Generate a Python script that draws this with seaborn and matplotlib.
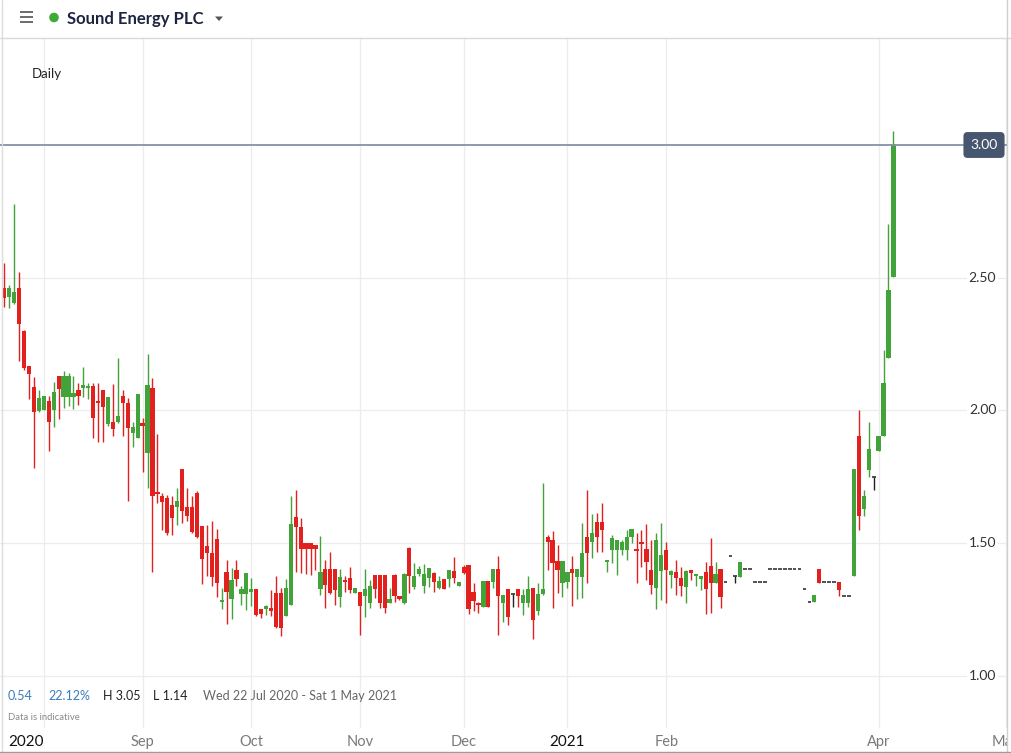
import numpy as np
import pandas as pd
import matplotlib
matplotlib.use("Agg")
import matplotlib.pyplot as plt
import matplotlib.transforms as mtransforms
from matplotlib.patches import Rectangle, Circle, Polygon
import seaborn as sns

# ---------------- data (daily OHLC, trading-day index) ----------------
opens = [2.46, 2.429, 2.404, 2.46, 2.30, 2.168, 2.088, 1.998, 2.002, 2.037,
         2.002, 2.13, 2.05, 2.05, 2.05, 2.078, 2.086, 2.084, 2.092, 2.032,
         2.078, 1.948, 1.956, 1.958, 2.055, 2.03, 1.914, 1.896, 1.952, 1.839,
         2.083, 1.69, 1.678, 1.67, 1.644, 1.638, 1.78, 1.638, 1.638, 1.688,
         1.565, 1.49, 1.462, 1.515, 1.278, 1.391, 1.289, 1.40, 1.309, 1.309,
         1.318, 1.327, 1.252, 1.252, 1.255, 1.314, 1.312, 1.226, 1.268, 1.598,
         1.56, 1.50, 1.50, 1.493, 1.327, 1.402, 1.402, 1.402, 1.299, 1.362,
         1.369, 1.314, 1.318, 1.301, 1.276, 1.379, 1.379, 1.379, 1.276, 1.38,
         1.301, 1.276, 1.481, 1.334, 1.384, 1.337, 1.368, 1.389, 1.33, 1.364,
         1.364, 1.396, 1.337, 1.412, 1.418, 1.318, 1.276, 1.261, 1.358, 1.355,
         1.403, 1.276, 1.328, 1.309, 1.328, 1.274, 1.274, 1.333, 1.246, 1.308,
         1.525, 1.512, 1.433, 1.349, 1.355, 1.404, 1.374, 1.374, 1.525, 1.504,
         1.581, 1.581, 1.428, 1.475, 1.475, 1.475, 1.475, 1.525, 1.477, 1.502,
         1.477, 1.399, 1.333, 1.397, 1.475, 1.381, 1.393, 1.368, 1.334, 1.399,
         1.377, 1.367, 1.393, 1.414, 1.352, 1.402, 1.355, 1.452, 1.377, 1.374,
         1.403, 1.403, 1.355, 1.355, 1.355, 1.402, 1.402, 1.402, 1.402, 1.402,
         1.402, 1.402, 1.327, 1.278, 1.278, 1.402, 1.353, 1.353, 1.353, 1.353,
         1.303, 1.303, 1.375, 1.904, 1.628, 1.774, 1.751, 1.849, 1.902, 2.199,
         2.501]
highs = [2.554, 2.473, 2.778, 2.52, 2.303, 2.168, 2.125, 2.077, 2.055, 2.055,
         2.106, 2.13, 2.149, 2.14, 2.13, 2.105, 2.162, 2.103, 2.105, 2.103,
         2.078, 2.052, 2.10, 2.197, 2.078, 2.046, 1.956, 2.063, 1.971, 2.213,
         2.121, 1.91, 1.691, 1.682, 1.676, 1.707, 1.78, 1.707, 1.676, 1.697,
         1.565, 1.569, 1.582, 1.553, 1.331, 1.435, 1.406, 1.437, 1.337, 1.387,
         1.368, 1.327, 1.252, 1.268, 1.324, 1.375, 1.331, 1.364, 1.676, 1.701,
         1.594, 1.50, 1.50, 1.493, 1.527, 1.437, 1.468, 1.402, 1.402, 1.377,
         1.412, 1.33, 1.318, 1.402, 1.362, 1.379, 1.379, 1.379, 1.33, 1.384,
         1.301, 1.387, 1.487, 1.424, 1.414, 1.421, 1.406, 1.393, 1.377, 1.364,
         1.40, 1.447, 1.355, 1.418, 1.418, 1.349, 1.28, 1.358, 1.358, 1.403,
         1.452, 1.305, 1.328, 1.309, 1.328, 1.328, 1.377, 1.333, 1.349, 1.726,
         1.531, 1.546, 1.493, 1.433, 1.393, 1.452, 1.404, 1.575, 1.701, 1.61,
         1.613, 1.65, 1.433, 1.531, 1.512, 1.512, 1.55, 1.553, 1.537, 1.548,
         1.573, 1.512, 1.537, 1.575, 1.506, 1.399, 1.437, 1.412, 1.399, 1.399,
         1.384, 1.377, 1.431, 1.518, 1.431, 1.402, 1.355, 1.452, 1.377, 1.43,
         1.403, 1.403, 1.355, 1.355, 1.355, 1.402, 1.402, 1.402, 1.402, 1.402,
         1.402, 1.402, 1.327, 1.278, 1.306, 1.402, 1.353, 1.353, 1.353, 1.353,
         1.303, 1.303, 1.78, 2.002, 1.701, 1.955, 1.751, 1.904, 2.228, 2.703,
         3.053]
lows = [2.391, 2.385, 2.40, 2.188, 2.153, 2.042, 1.783, 1.996, 2.0, 1.849,
        1.937, 1.968, 2.008, 2.015, 2.005, 2.021, 2.052, 2.042, 1.896, 1.883,
        1.88, 1.94, 1.902, 1.952, 1.902, 1.66, 1.862, 1.896, 1.77, 1.707,
        1.393, 1.65, 1.55, 1.531, 1.531, 1.569, 1.578, 1.582, 1.54, 1.519,
        1.345, 1.375, 1.337, 1.299, 1.252, 1.196, 1.214, 1.337, 1.268, 1.249,
        1.262, 1.226, 1.217, 1.23, 1.224, 1.18, 1.149, 1.226, 1.268, 1.393,
        1.387, 1.384, 1.38, 1.40, 1.305, 1.255, 1.31, 1.268, 1.261, 1.318,
        1.314, 1.312, 1.155, 1.221, 1.255, 1.293, 1.255, 1.236, 1.276, 1.28,
        1.288, 1.271, 1.312, 1.327, 1.377, 1.314, 1.334, 1.318, 1.327, 1.327,
        1.334, 1.349, 1.337, 1.384, 1.234, 1.246, 1.236, 1.261, 1.259, 1.33,
        1.155, 1.205, 1.192, 1.261, 1.259, 1.23, 1.261, 1.138, 1.23, 1.305,
        1.40, 1.255, 1.311, 1.299, 1.33, 1.264, 1.289, 1.295, 1.349, 1.443,
        1.468, 1.468, 1.393, 1.427, 1.38, 1.456, 1.437, 1.50, 1.352, 1.412,
        1.362, 1.309, 1.251, 1.286, 1.276, 1.33, 1.305, 1.301, 1.274, 1.362,
        1.339, 1.324, 1.232, 1.236, 1.349, 1.255, 1.355, 1.452, 1.352, 1.374,
        1.403, 1.403, 1.355, 1.355, 1.355, 1.402, 1.402, 1.402, 1.402, 1.402,
        1.402, 1.402, 1.327, 1.278, 1.278, 1.352, 1.353, 1.353, 1.353, 1.303,
        1.303, 1.303, 1.375, 1.551, 1.603, 1.751, 1.701, 1.849, 1.902, 2.199,
        2.501]
closes = [2.425, 2.463, 2.448, 2.325, 2.159, 2.136, 1.993, 2.046, 2.055, 1.956,
          2.07, 2.08, 2.13, 2.128, 2.065, 2.056, 2.096, 2.092, 1.973, 2.027,
          2.012, 2.05, 1.929, 1.98, 2.027, 1.933, 1.936, 2.063, 1.943, 2.096,
          1.678, 1.686, 1.657, 1.54, 1.594, 1.659, 1.623, 1.604, 1.544, 1.523,
          1.44, 1.462, 1.372, 1.349, 1.287, 1.318, 1.362, 1.364, 1.327, 1.387,
          1.327, 1.23, 1.234, 1.262, 1.243, 1.186, 1.18, 1.331, 1.573, 1.56,
          1.477, 1.478, 1.477, 1.477, 1.393, 1.343, 1.314, 1.324, 1.372, 1.353,
          1.322, 1.33, 1.264, 1.327, 1.337, 1.327, 1.276, 1.255, 1.289, 1.301,
          1.29, 1.384, 1.377, 1.377, 1.402, 1.384, 1.406, 1.355, 1.359, 1.327,
          1.40, 1.368, 1.355, 1.387, 1.251, 1.284, 1.267, 1.358, 1.259, 1.403,
          1.301, 1.305, 1.221, 1.309, 1.301, 1.305, 1.328, 1.209, 1.309, 1.328,
          1.506, 1.427, 1.40, 1.433, 1.393, 1.387, 1.404, 1.462, 1.462, 1.54,
          1.525, 1.55, 1.433, 1.519, 1.512, 1.506, 1.525, 1.553, 1.472, 1.497,
          1.431, 1.343, 1.512, 1.456, 1.399, 1.397, 1.37, 1.337, 1.397, 1.387,
          1.384, 1.377, 1.328, 1.352, 1.384, 1.299, 1.355, 1.452, 1.377, 1.43,
          1.403, 1.403, 1.355, 1.355, 1.355, 1.402, 1.402, 1.402, 1.402, 1.402,
          1.402, 1.402, 1.327, 1.278, 1.306, 1.352, 1.353, 1.353, 1.353, 1.325,
          1.303, 1.303, 1.78, 1.601, 1.679, 1.856, 1.751, 1.904, 2.103, 2.454,
          3.004]

month_labels = ["2020", "Sep", "Oct", "Nov", "Dec", "2021", "Feb", "Apr", "May"]
month_bars = [8, 28, 50, 72, 93, 114, 134, 177, 202.8]
price_ticks = [1.00, 1.50, 2.00, 2.50]
last_price = 3.00
title = "Sound Energy PLC"
info_change, info_pct, info_high, info_low = "0.54", "22.12%", "H 3.05", "L 1.14"
info_range = "Wed 22 Jul 2020 - Sat 1 May 2021"

df = pd.DataFrame({"o": opens, "h": highs, "l": lows, "c": closes})
df["x"] = np.arange(len(df))

# ---------------- style ----------------
sns.set_theme(style="white")
plt.rcParams["font.family"] = ["Lato", "DejaVu Sans"]

GREEN = "#43a33b"
RED = "#e2211f"
DARK = "#222222"
GRID = "#ececec"

W, H = 1012, 753
fig = plt.figure(figsize=(W / 100, H / 100), dpi=100)
fig.patch.set_facecolor("white")

ax = fig.add_axes([0, (H - 728) / H, 1008 / W, (728 - 38) / H])
ax.set_facecolor("white")
ax.set_xlim(-0.87, 203.2)
ax.set_ylim(0.804, 3.403)
for s in ax.spines.values():
    s.set_visible(False)

# grid
for t in price_ticks:
    ax.axhline(t, color=GRID, lw=0.9, zorder=0)
for m in month_bars:
    ax.axvline(m, color=GRID, lw=0.9, zorder=0)

# candles
flat = (df.h - df.l) < 1e-9
doji = (~flat) & ((df.o - df.c).abs() < 1e-9)
body = ~(flat | doji)
up = df.c >= df.o

for mask, col in [(body & up, GREEN), (body & ~up, RED)]:
    d = df[mask]
    ax.vlines(d.x, d.l, d.h, color=col, lw=1.0, zorder=2)
    lo = np.minimum(d.o, d.c)
    ht = np.maximum((d.c - d.o).abs(), 0.008)
    ax.bar(d.x, ht, bottom=lo, width=0.86, color=col, linewidth=0, zorder=3)

d = df[flat]
ax.hlines(d.c, d.x - 0.38, d.x + 0.38, color=DARK, lw=1.1, zorder=3)
d = df[doji]
ax.hlines(d.c, d.x - 0.38, d.x + 0.38, color=DARK, lw=1.1, zorder=3)
ax.vlines(d.x, d.l, d.h, color=DARK, lw=1.0, zorder=3)

# last price line + box
ax.axhline(last_price, color="#8592a6", lw=1.3, zorder=4)
trans = mtransforms.blended_transform_factory(ax.transAxes, ax.transData)
ax.text(984 / 1008, last_price, f"{last_price:.2f}", transform=trans,
        ha="center", va="center", fontsize=10, color="white", zorder=6,
        bbox=dict(boxstyle="round,pad=0.5,rounding_size=0.3",
                  fc="#46566f", ec="none"))
for t in price_ticks:
    ax.text(982.5 / 1008, t, f"{t:.2f}", transform=trans, ha="center",
            va="center", fontsize=10, color="#333333", zorder=5,
            bbox=dict(boxstyle="square,pad=0.15", fc="white", ec="none"))

# x tick labels
ax.set_yticks([])
ax.set_xticks(month_bars)
ax.set_xticklabels(month_labels, fontsize=10.5)
ax.tick_params(axis="x", length=0, pad=5)
labs = ax.get_xticklabels()
for lab in labs:
    if lab.get_text().isdigit():
        lab.set_color("#111111")
        lab.set_fontsize(11)
    else:
        lab.set_color("#7a7a7a")
labs[0].set_horizontalalignment("right")

# ---------------- overlay (pixel coordinates) ----------------
ov = fig.add_axes([0, 0, 1, 1], zorder=10)
ov.set_xlim(0, W)
ov.set_ylim(H, 0)
ov.axis("off")
ov.patch.set_alpha(0)

# header
ov.add_patch(Rectangle((0, 0), W, 37, fc="white", ec="none"))
for yy in (11.7, 17.0, 22.3):
    ov.plot([20, 33], [yy, yy], color="#6b6b6b", lw=1.4, solid_capstyle="butt")
ov.add_patch(Circle((54, 17.5), 4.8, fc="#3fa93a", ec="none"))
ov.text(67, 18.5, title, fontsize=12, fontweight="bold", color="#1d2442",
        ha="left", va="center")
ov.add_patch(Polygon([[215, 16.5], [223, 16.5], [219, 21]], closed=True,
                     fc="#555555", ec="none"))
ov.plot([0, W], [37.5, 37.5], color="#d9d9d9", lw=1)
ov.text(32, 74, "Daily", fontsize=9.5, color="#222222", ha="left", va="center")

# info lines
ov.text(8, 696, info_change, fontsize=9, color="#3b7dbd", ha="left", va="center")
ov.text(48, 696, info_pct, fontsize=9, color="#3b7dbd", ha="left", va="center")
ov.text(103, 696, info_high, fontsize=9, color="#222222", ha="left", va="center")
ov.text(153, 696, info_low, fontsize=9, color="#222222", ha="left", va="center")
ov.text(203, 696, info_range, fontsize=9, color="#666666", ha="left", va="center")
ov.text(8, 718, "Data is indicative", fontsize=6.8, color="#8a8a8a",
        ha="left", va="center")

# borders
ov.add_patch(Rectangle((1008, 0), 4, H, fc="white", ec="none"))
ov.plot([1007.5, 1007.5], [0, H], color="#cfcfcf", lw=1)
ov.plot([2.5, 2.5], [0, H], color="#dcdcdc", lw=1)
ov.plot([0, W], [751.5, 751.5], color="#9a9a9a", lw=1)

fig.savefig("out.png", dpi=100)
